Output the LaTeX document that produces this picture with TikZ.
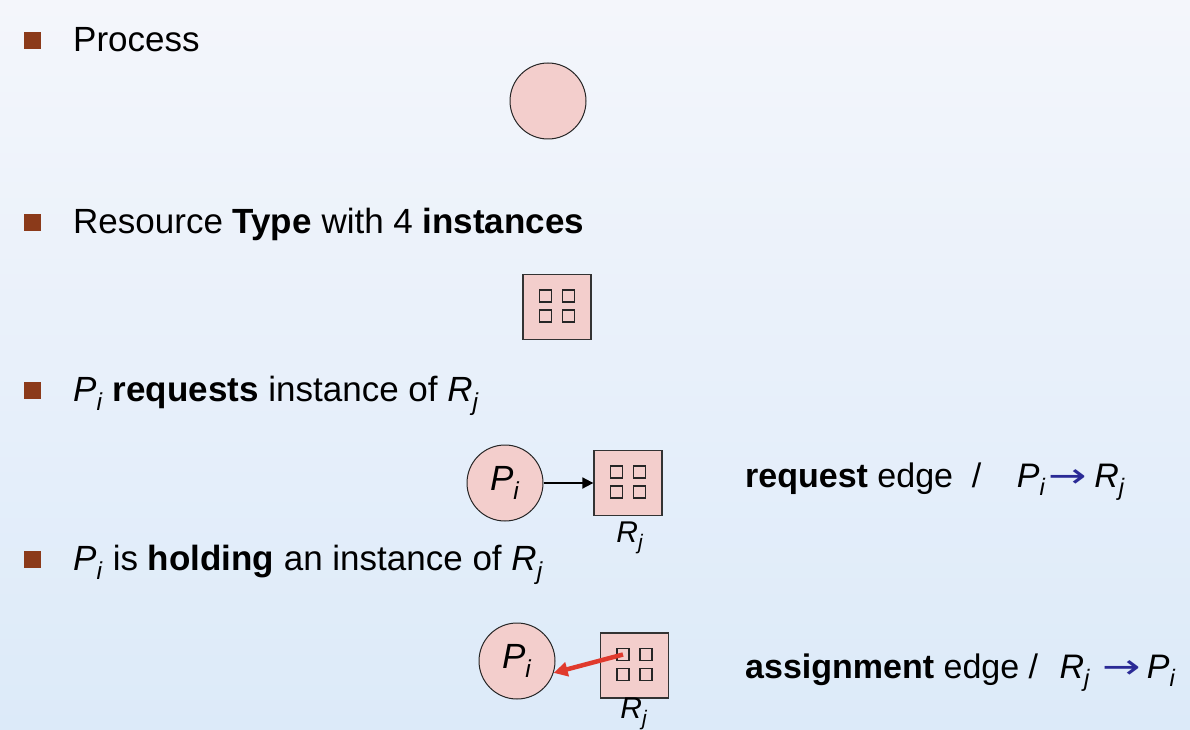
\documentclass[tikz,border=0pt]{standalone}
\usepackage{fontspec}
\setmainfont{Liberation Sans}
\newfontfamily\arrowfont{DejaVu Sans}
\usetikzlibrary{arrows.meta,positioning}

\definecolor{bulletbrown}{RGB}{139,58,26}
\definecolor{procpink}{RGB}{243,206,204}
\definecolor{edgered}{RGB}{224,58,45}
\definecolor{edgenavy}{RGB}{42,42,150}
\definecolor{bgtop}{RGB}{244,246,251}
\definecolor{bgbot}{RGB}{220,234,249}

\newcommand{\procP}{\textit{P}\textsubscript{\textit{i}}}
\newcommand{\resR}{\textit{R}\textsubscript{\textit{j}}}
\newcommand{\edgearrow}{{\color{edgenavy}\arrowfont\scalebox{1.35}[1]{→}}}

\begin{document}
\begin{tikzpicture}[x=1pt,y=-1pt,
  bullet/.style={fill=bulletbrown,minimum size=17pt,inner sep=0pt},
  item/.style={anchor=base west,inner sep=0pt,font=\fontsize{35}{40}\selectfont},
  edgetext/.style={anchor=base west,inner sep=0pt,font=\fontsize{34}{40}\selectfont},
  proc/.style={circle,draw=black!85,line width=1pt,fill=procpink,minimum size=76pt,inner sep=0pt,font=\fontsize{35}{40}\selectfont},
  res/.style={draw=black!80,line width=1.3pt,fill=procpink,minimum width=68pt,minimum height=65pt,inner sep=0pt},
  inst/.style={draw=black!85,line width=1.3pt,minimum size=12pt,inner sep=0pt},
  reslabel/.style={inner sep=0pt,font=\fontsize{30}{34}\selectfont},
  request/.style={line width=1.8pt,-{Triangle[length=11pt,width=11pt]}},
  assign/.style={edgered,line width=4.5pt,-{Triangle[length=14pt,width=14pt]}}]

% background
\shade[top color=bgtop,bottom color=bgbot] (0,0) rectangle (1190,730);
\useasboundingbox (0,0) rectangle (1190,730);

% bullet items
\node[bullet] (bul1) at (32,41) {};
\node[item] (txt1) at (73,52) {Process};
\node[bullet] (bul2) at (32,222) {};
\node[item] (txt2) at (73,233) {Resource \textbf{Type} with 4 \textbf{instances}};
\node[bullet] (bul3) at (32,390) {};
\node[item] (txt3) at (73,401) {\procP{} \textbf{requests} instance of \resR};
\node[bullet] (bul4) at (32,559) {};
\node[item] (txt4) at (73,570) {\procP{} is \textbf{holding} an instance of \resR};

% process
\node[proc] (proc1) at (548,101) {};

% resource type
\node[res] (res1) at (557,307) {};
\foreach \k/\dx/\dy in {1/-11.5/-11,2/11.5/-11,3/-11.5/9,4/11.5/9}
  \node[inst] (res1-\k) at ([shift={(\dx,\dy)}]res1.center) {};

% request edge
\node[proc] (proc2) at (505,483) {\procP};
\node[res] (res2) at (628,483) {};
\foreach \k/\dx/\dy in {1/-11.5/-11,2/11.5/-11,3/-11.5/9,4/11.5/9}
  \node[inst] (res2-\k) at ([shift={(\dx,\dy)}]res2.center) {};
\node[reslabel] (lab2) at (630,538) {\resR};
\draw[request] (proc2) -- (res2);
\node[edgetext] (edge2) at (745,487) {\textbf{request} edge \ / \hspace{26pt}\procP\hspace{3pt}\edgearrow\hspace{7pt}\resR};

% assignment edge
\node[proc] (proc3) at (517,661) {\procP};
\node[res] (res3) at (634.5,665.5) {};
\foreach \k/\dx/\dy in {1/-11.5/-11,2/11.5/-11,3/-11.5/9,4/11.5/9}
  \node[inst] (res3-\k) at ([shift={(\dx,\dy)}]res3.center) {};
\node[reslabel] (lab3) at (634,714) {\resR};
\draw[assign] (res3-1.center) -- (proc3.-18);
\node[edgetext] (edge3) at (745,678) {\textbf{assignment} edge / \hspace{12pt}\resR\hspace{12pt}\edgearrow\hspace{6pt}\procP};

\end{tikzpicture}
\end{document}
